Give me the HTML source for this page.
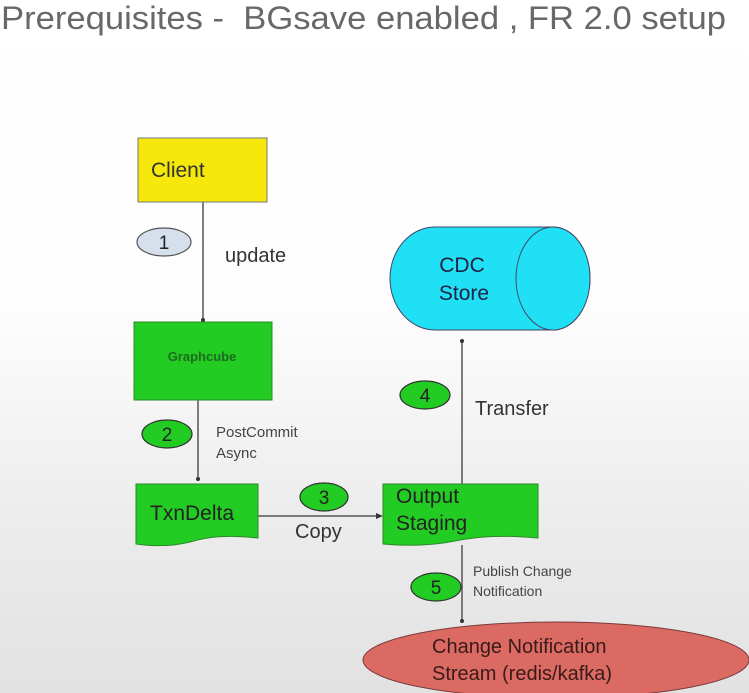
<!DOCTYPE html>
<html><head><style>
html,body{margin:0;padding:0;width:749px;height:693px;overflow:hidden;}
body{background:linear-gradient(#ffffff 0%,#fdfdfd 45%,#ececec 75%,#e2e2e2 100%);}
svg{display:block;font-family:"Liberation Sans",Arial,sans-serif;}
</style></head><body>
<svg width="749" height="693" viewBox="0 0 749 693" xmlns="http://www.w3.org/2000/svg">
<text x="1" y="29" font-size="32" fill="#686868" textLength="725" lengthAdjust="spacingAndGlyphs">Prerequisites -&#160; BGsave enabled , FR 2.0 setup</text>

<g stroke="#555" stroke-width="1.5" fill="none">
<line x1="203" y1="202" x2="203" y2="320"/>
<line x1="198" y1="400" x2="198" y2="481"/>
<line x1="258" y1="516" x2="380" y2="516"/>
<line x1="462" y1="484" x2="462" y2="342"/>
<line x1="462" y1="545" x2="462" y2="621"/>
</g>
<g fill="#333">
<circle cx="203" cy="320" r="2"/>
<circle cx="198" cy="479" r="2"/>
<path d="M383 516 l-7 -3 v6z"/>
<circle cx="462" cy="341" r="2"/>
<circle cx="462" cy="621" r="2"/>
</g>

<rect x="138" y="138" width="129" height="64" fill="#f5e80a" stroke="#777" stroke-width="1"/>
<text x="151" y="177" font-size="21" fill="#333">Client</text>
<rect x="134" y="322" width="138" height="78" fill="#22cc22" stroke="#2a8a2a" stroke-width="1"/>
<text x="202" y="361" font-size="13" font-weight="bold" fill="#1f6a1f" text-anchor="middle">Graphcube</text>
<path d="M136 484 H258 V538 C230 535 210 536 190 542 C170 547 150 546 136 544 Z" fill="#22cc22" stroke="#2a8a2a" stroke-width="1"/>
<text x="150" y="520" font-size="21" fill="#222">TxnDelta</text>
<path d="M383 484 H538 V538 C505 535 480 536 455 541 C430 546 405 546 383 544 Z" fill="#22cc22" stroke="#2a8a2a" stroke-width="1"/>
<text x="396" y="503" font-size="21" fill="#222">Output</text>
<text x="396" y="530" font-size="21" fill="#222">Staging</text>

<path d="M435 227 H553 A37 51.5 0 0 1 553 330 H435 A45 51.5 0 0 1 435 227 Z" fill="#1fe0f5" stroke="#446" stroke-width="1"/>
<ellipse cx="553" cy="278.5" rx="37" ry="51.5" fill="#1fe0f5" stroke="#446" stroke-width="1"/>
<text x="462" y="272" font-size="21" fill="#224" text-anchor="middle">CDC</text>
<text x="464" y="300" font-size="21" fill="#224" text-anchor="middle">Store</text>

<ellipse cx="556" cy="660" rx="193" ry="38" fill="#da6a62" stroke="#7a3a3a" stroke-width="1"/>
<text x="432" y="653" font-size="20" fill="#3a1a1a">Change Notification</text>
<text x="432" y="680" font-size="20" fill="#3a1a1a">Stream (redis/kafka)</text>

<ellipse cx="164" cy="242" rx="27" ry="14" fill="#d6e0ec" stroke="#555" stroke-width="1.2"/>
<text x="164" y="249" font-size="19" fill="#222" text-anchor="middle">1</text>
<ellipse cx="167" cy="434" rx="25" ry="14" fill="#22cc22" stroke="#333" stroke-width="1.2"/>
<text x="167" y="441" font-size="19" fill="#222" text-anchor="middle">2</text>
<ellipse cx="324" cy="497" rx="24" ry="14" fill="#22cc22" stroke="#333" stroke-width="1.2"/>
<text x="324" y="504" font-size="19" fill="#222" text-anchor="middle">3</text>
<ellipse cx="425" cy="395" rx="25" ry="14" fill="#22cc22" stroke="#333" stroke-width="1.2"/>
<text x="425" y="402" font-size="19" fill="#222" text-anchor="middle">4</text>
<ellipse cx="436" cy="587" rx="25" ry="14" fill="#22cc22" stroke="#333" stroke-width="1.2"/>
<text x="436" y="594" font-size="19" fill="#222" text-anchor="middle">5</text>

<text x="225" y="262" font-size="20" fill="#333">update</text>
<text x="216" y="437" font-size="15" fill="#444">PostCommit</text>
<text x="216" y="458" font-size="15" fill="#444">Async</text>
<text x="295" y="538" font-size="20" fill="#333">Copy</text>
<text x="475" y="415" font-size="20" fill="#333">Transfer</text>
<text x="473" y="576" font-size="14" fill="#444">Publish Change</text>
<text x="473" y="596" font-size="14" fill="#444">Notification</text>
</svg>
</body></html>
